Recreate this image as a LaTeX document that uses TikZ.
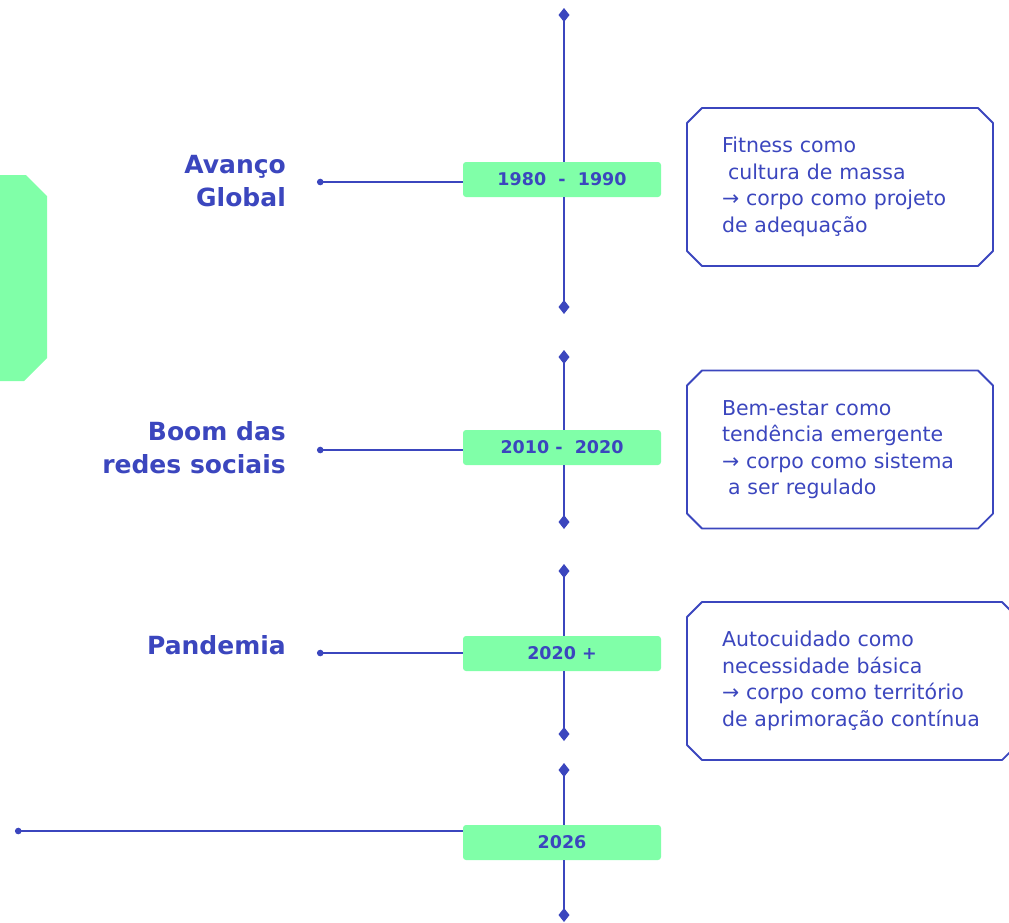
\documentclass[tikz,border=0pt]{standalone}
\usepackage{fontspec}
\setmainfont{DejaVu Sans}
\usepackage{tikz}
\usetikzlibrary{positioning, arrows.meta}
\definecolor{ink}{RGB}{59,70,190}
\definecolor{mint}{RGB}{128,255,168}

\begin{document}
\begin{tikzpicture}[
  x=1pt, y=-1pt,
  gem/.tip={Diamond[length=14pt, width=11pt]},
  spine/.style={draw=ink, line width=2pt},
  link/.style={draw=ink, line width=1.8pt, {Circle[length=6.5pt]}-},
  year/.style={fill=mint, rounded corners=3pt, minimum width=198pt, minimum height=35pt, text=ink, font=\fontsize{17.5}{20}\selectfont\bfseries},
  era/.style={anchor=east, align=right, text=ink, inner sep=0pt, font=\fontsize{25}{33}\selectfont\bfseries},
  note/.style={rectangle, align=left, text=ink, inner xsep=35pt, outer sep=0pt, minimum height=158pt, text width=236pt, font=\fontsize{20.5}{26.5}\selectfont},
  frame/.style={draw=ink, line width=1.8pt, line join=round},
]
  \useasboundingbox (0,0) rectangle (1009,922);

  % left tab
  \fill[mint] (0,175) -- (26,175) -- (47,196) -- (47,358) -- (24,381) -- (0,381) -- cycle;

  % years
  \node[year] (y1) at (562,179.5) {1980\ \ -\ \ 1990};
  \node[year] (y2) at (562,447.5) {2010 -\ \ 2020};
  \node[year] (y3) at (562,653.5) {2020 +};
  \node[year] (y4) at (562,842.5) {2026};

  % spine ends
  \coordinate (s1a) at (564,8);   \coordinate (s1b) at (564,314);
  \coordinate (s2a) at (564,350); \coordinate (s2b) at (564,529);
  \coordinate (s3a) at (564,564); \coordinate (s3b) at (564,741);
  \coordinate (s4a) at (564,763); \coordinate (s4b) at (564,922);
  \foreach \i in {1,...,4} {
    \draw[spine, {gem}-] (s\i a) -- (s\i a |- y\i.north);
    \draw[spine, -{gem}] (s\i b |- y\i.south) -- (s\i b);
  }

  % eras
  \node[era] (e1) at (286,181) {Avanço\\Global};
  \node[era] (e2) at (286,448) {Boom das\\redes sociais};
  \node[era] (e3) at (286,645) {Pandemia};

  \coordinate (c1) at (317,182);
  \coordinate (c2) at (317,450);
  \coordinate (c3) at (317,653);
  \coordinate (c4) at (15,831);
  \foreach \i in {1,...,4}
    \draw[link] (c\i) -- (c\i -| y\i.west);

  % notes
  \node[note] (n1) at (840,187) {Fitness como\\\hspace*{6pt}cultura de massa\\→ corpo como projeto\\de adequação};
  \node[note] (n2) at (840,449.5) {Bem-estar como\\tendência emergente\\→ corpo como sistema\\\hspace*{6pt}a ser regulado};
  \node[note, text width=260pt] (n3) at (852,681) {Autocuidado como\\necessidade básica\\→ corpo como território\\de aprimoração contínua};
  \foreach \n in {n1,n2,n3}
    \draw[frame] ([xshift=15pt]\n.north west) -- ([xshift=-15pt]\n.north east)
      -- ([yshift=-15pt]\n.north east) -- ([yshift=15pt]\n.south east)
      -- ([xshift=-15pt]\n.south east) -- ([xshift=15pt]\n.south west)
      -- ([yshift=15pt]\n.south west) -- ([yshift=-15pt]\n.north west) -- cycle;
\end{tikzpicture}
\end{document}
